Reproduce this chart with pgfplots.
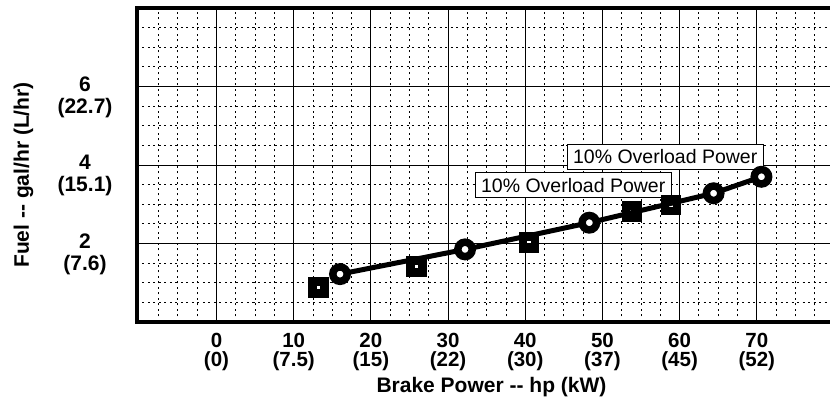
\documentclass[border=0pt]{standalone}
\usepackage{fontspec}
\setmainfont{Liberation Sans}
\usepackage{pgfplots}
\pgfplotsset{compat=1.18}
\begin{document}
\begin{tikzpicture}
\begin{axis}[
  scale only axis,
  width=697pt, height=314pt,
  xmin=-10.3, xmax=80, ymin=0, ymax=8,
  axis line style={line width=4pt, line cap=rect},
  xtick={0,10,20,30,40,50,60,70},
  xticklabels={{0\\(0)},{10\\(7.5)},{20\\(15)},{30\\(22)},{40\\(30)},{50\\(37)},{60\\(45)},{70\\(52)}},
  ytick={2,4,6},
  yticklabels={{2\\(7.6)},{4\\(15.1)},{6\\(22.7)}},
  minor xtick={-7.5,-5,-2.5,2.5,5,7.5,12.5,15,17.5,22.5,25,27.5,32.5,35,37.5,42.5,45,47.5,52.5,55,57.5,62.5,65,67.5,72.5,75,77.5},
  minor ytick={0.5,1,1.5,2.5,3,3.5,4.5,5,5.5,6.5,7,7.5},
  major tick length=0pt, minor tick length=0pt,
  grid=both,
  major grid style={black, line width=0.9pt},
  minor grid style={black, line width=0.9pt, dash pattern=on 2pt off 3.5pt},
  xticklabel style={font=\fontsize{20.5}{19}\selectfont\bfseries, align=center, anchor=north, inner sep=0pt, yshift=-10.5pt},
  yticklabel style={font=\fontsize{21}{22}\selectfont\bfseries, align=center, anchor=center, inner sep=0pt, xshift=-52pt, yshift=-10.5pt},
  xlabel={Brake Power -{}- hp (kW)},
  ylabel={Fuel -{}- gal/hr (L/hr)},
  xlabel style={font=\fontsize{21}{24}\selectfont\bfseries, at={(axis description cs:0.5086,-0.225)}, anchor=base},
  ylabel style={font=\fontsize{21}{24}\selectfont\bfseries, at={(axis description cs:-0.1628,0.468)}, anchor=center},
  clip=false,
]
\addplot[black, line width=5pt, mark=*, mark size=7.2pt,
  mark options={draw=black, fill=white, line width=7.5pt}]
  coordinates {(16.0,1.22) (32.2,1.85) (48.3,2.53) (64.4,3.28) (70.6,3.70)};
\addplot[only marks, mark=square, mark size=6pt,
  mark options={draw=black, fill=white, line width=8.5pt}]
  coordinates {(13.2,0.88) (25.9,1.41) (40.5,2.02) (53.8,2.81) (58.9,2.98)};
\node[draw=black, fill=white, line width=0.8pt, inner xsep=6pt, inner ysep=5.5pt,
  anchor=south east, font=\fontsize{19.5}{22}\selectfont] at (axis cs:70.9,3.872) {10\% Overload Power};
\node[draw=black, fill=white, line width=0.8pt, inner xsep=6pt, inner ysep=5.5pt,
  anchor=south east, font=\fontsize{19.5}{22}\selectfont] at (axis cs:58.98,3.157) {10\% Overload Power};
\end{axis}
\pgfresetboundingbox
\path (-137pt,-82pt) rectangle (693pt,322pt);
\end{tikzpicture}
\end{document}
